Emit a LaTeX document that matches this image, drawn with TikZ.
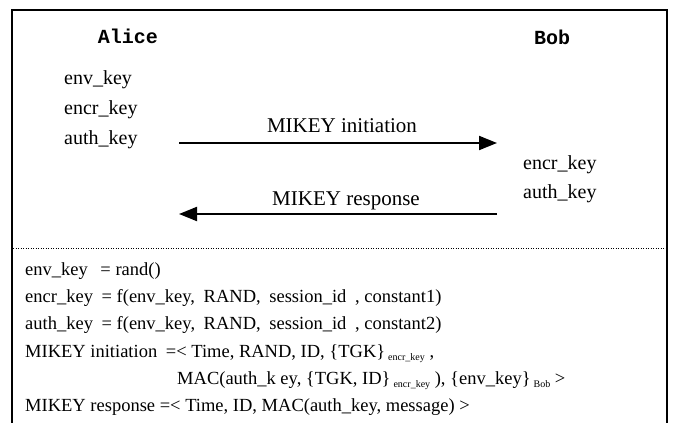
\documentclass[tikz,border=0pt]{standalone}
\usepackage{fontspec}
\setmainfont{Liberation Serif}
\newfontfamily\courb{Liberation Mono}
\usetikzlibrary{arrows.meta}
\newcommand{\subtxt}[1]{\raisebox{-3.5pt}{\fontsize{10}{11}\selectfont\hspace{3pt}#1}}
\newcommand{\gapx}{\hspace{4pt}}
\begin{document}
\begin{tikzpicture}[x=1pt,y=-1pt,
  party/.style={inner sep=0pt, font=\courb\bfseries\fontsize{20}{22}\selectfont},
  keylbl/.style={inner sep=0pt, anchor=base west, font=\fontsize{20}{24}\selectfont},
  msglbl/.style={inner sep=0pt, anchor=base, font=\fontsize{21}{25}\selectfont},
  eqline/.style={inner sep=0pt, anchor=base west, font=\fontsize{18.5}{22}\selectfont},
  msgarrow/.style={line width=2pt, -{Triangle[length=18pt,width=14pt]}},
  frame/.style={line width=2pt},
  sep/.style={line width=0.8pt, dash pattern=on 1pt off 1.5pt}]
\useasboundingbox (0,0) rectangle (675,423);
% frame
\draw[frame] (12,423) -- (12,10) -- (667,10) -- (667,423);
\draw[sep] (13,248) -- (666,248);
% parties
\node[party] (alice) at (128,36) {Alice};
\node[party] (bob) at (552,37) {Bob};
% Alice keys
\node[keylbl] (aenv) at (64,84) {env\_key};
\node[keylbl] (aencr) at (64,114) {encr\_key};
\node[keylbl] (aauth) at (64,144) {auth\_key};
% Bob keys
\node[keylbl] (bencr) at (523,169) {encr\_key};
\node[keylbl] (bauth) at (523,198) {auth\_key};
% messages
\coordinate (i1) at (179,143);
\coordinate (i2) at (497,143);
\coordinate (r1) at (497,214);
\coordinate (r2) at (179,214);
\draw[msgarrow] (i1) -- (i2);
\draw[msgarrow] (r1) -- (r2);
\node[msglbl] (initlbl) at (342,132) {MIKEY initiation};
\node[msglbl] (resplbl) at (346,205) {MIKEY response};
% equations
\node[eqline] (e1) at (25,275) {env\_key \gapx\gapx= rand()};
\node[eqline] (e2) at (25,302) {encr\_key \gapx= f(env\_key, \gapx RAND, \gapx session\_id \gapx, constant1)};
\node[eqline] (e3) at (25,329) {auth\_key \gapx= f(env\_key, \gapx RAND, \gapx session\_id \gapx, constant2)};
\node[eqline] (e4) at (25,357) {MIKEY initiation \gapx=< Time, RAND, ID, \{TGK\}\subtxt{encr\_key} ,};
\node[eqline] (e5) at (177,384) {MAC(auth\_k ey, \{TGK, ID\}\subtxt{encr\_key} ), \{env\_key\}\subtxt{Bob} >};
\node[eqline] (e6) at (25,411) {MIKEY response =< Time, ID, MAC(auth\_key, message) >};
\end{tikzpicture}
\end{document}
